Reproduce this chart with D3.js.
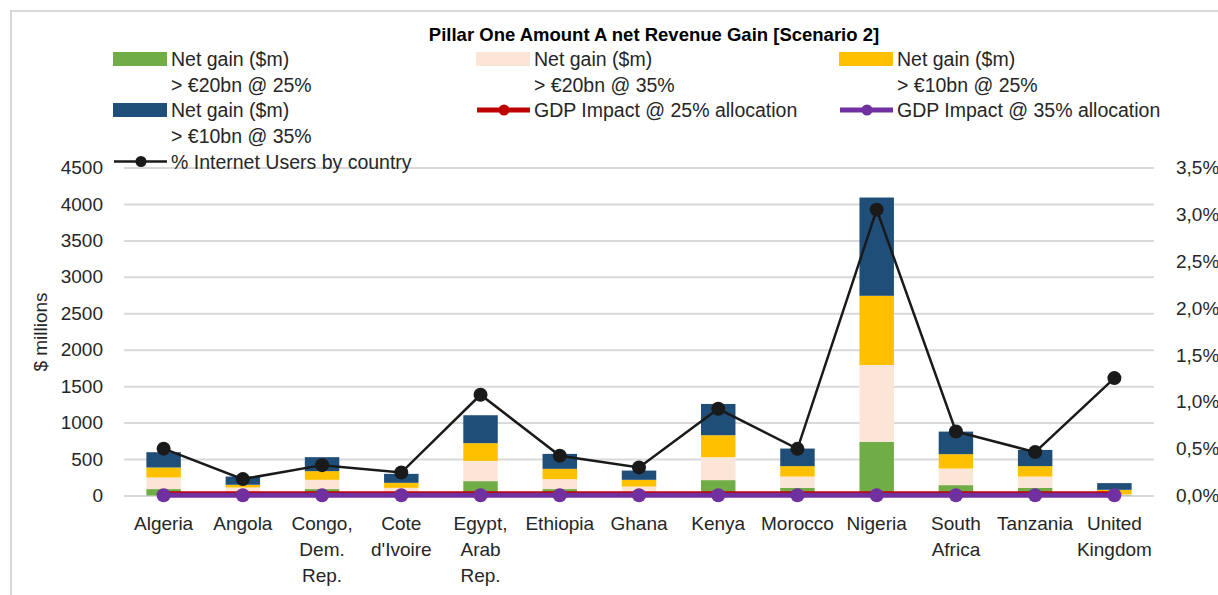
<!DOCTYPE html>
<html>
<head>
<meta charset="utf-8">
<script src="https://cdn.jsdelivr.net/npm/d3@7"></script>
<style>
  html, body { margin: 0; padding: 0; background: #fff; }
  svg { display: block; font-family: "Liberation Sans", Arial, sans-serif; }
</style>
</head>
<body>
<svg id="chart" width="1218" height="595"></svg>
<script>
// Countries on the x axis
const categories = ["Algeria", "Angola", "Congo, Dem. Rep.", "Cote d'Ivoire", "Egypt, Arab Rep.",
  "Ethiopia", "Ghana", "Kenya", "Morocco", "Nigeria", "South Africa", "Tanzania", "United Kingdom"];

// Net revenue gain ($m), stacked bottom to top
const gain20at25 = [88, 35, 88, 40, 197, 88, 45, 211, 105, 735, 142, 105, 5];
const gain20at35 = [159, 75, 127, 65, 278, 137, 78, 315, 155, 1055, 228, 155, 10];
const gain10at25 = [137, 37, 119, 69, 243, 141, 92, 301, 143, 950, 197, 143, 63];
const gain10at35 = [210, 113, 192, 123, 383, 205, 127, 429, 241, 1348, 310, 222, 92];

// Right-axis series (%)
const gdpImpact25 = [0.03, 0.03, 0.03, 0.03, 0.03, 0.03, 0.03, 0.03, 0.03, 0.03, 0.03, 0.03, 0.03];
const gdpImpact35 = [0.002, 0.002, 0.002, 0.002, 0.002, 0.002, 0.002, 0.002, 0.002, 0.002, 0.002, 0.002, 0.002];
const internetUsers = [0.50, 0.175, 0.324, 0.245, 1.075, 0.424, 0.30, 0.925, 0.498, 3.05, 0.683, 0.463, 1.253];

// Axis ticks
const leftTicks = [0, 500, 1000, 1500, 2000, 2500, 3000, 3500, 4000, 4500];
const rightTicks = [0, 0.5, 1.0, 1.5, 2.0, 2.5, 3.0, 3.5];

const title = "Pillar One Amount A net Revenue Gain [Scenario 2]";
const yTitle = "$ millions";

const stackKeys = ["g20_25", "g20_35", "g10_25", "g10_35"];
const stackColors = { g20_25: "#70ad47", g20_35: "#fbe5d6", g10_25: "#ffc000", g10_35: "#1f4e79" };
const stackLabels = {
  g20_25: ["Net gain ($m)", "> €20bn @ 25%"],
  g20_35: ["Net gain ($m)", "> €20bn @ 35%"],
  g10_25: ["Net gain ($m)", "> €10bn @ 25%"],
  g10_35: ["Net gain ($m)", "> €10bn @ 35%"]
};

const rows = categories.map((c, i) => ({
  country: c,
  g20_25: gain20at25[i], g20_35: gain20at35[i], g10_25: gain10at25[i], g10_35: gain10at35[i],
  gdp25: gdpImpact25[i], gdp35: gdpImpact35[i], internet: internetUsers[i]
}));

const svg = d3.select("#chart");
const textColor = "#262626";

// Plot frame
const plot = { left: 124, right: 1154, top: 167.5, bottom: 495.5 };

// Outer chart border
svg.append("rect")
  .attr("x", 11).attr("y", 11).attr("width", 1230).attr("height", 600)
  .attr("fill", "none").attr("stroke", "#d9d9d9").attr("stroke-width", 2);

const x = d3.scaleBand().domain(categories).range([plot.left, plot.right])
  .paddingInner(0.565).paddingOuter(0.2825);
const y = d3.scaleLinear().domain([0, 4500]).range([plot.bottom, plot.top]);
const yR = d3.scaleLinear().domain([0, 3.5]).range([plot.bottom, plot.top]);

const commaLocale = d3.formatLocale({ decimal: ",", thousands: ".", grouping: [3], currency: ["", ""] });
const fmtPct = v => commaLocale.format(".1f")(v) + "%";

// Gridlines
const grid = svg.append("g").attr("transform", `translate(${plot.left},0)`)
  .call(d3.axisLeft(y).tickValues(leftTicks).tickSize(-(plot.right - plot.left)).tickFormat(""));
grid.select(".domain").remove();
grid.selectAll("line").attr("stroke", "#d9d9d9").attr("stroke-width", 2);

// Left axis
const yAxis = svg.append("g").attr("transform", `translate(${plot.left},0)`)
  .call(d3.axisLeft(y).tickValues(leftTicks).tickSize(0).tickPadding(21).tickFormat(d3.format("d")));
yAxis.select(".domain").remove();
yAxis.selectAll("text").attr("font-size", 19).attr("fill", textColor)
  .attr("font-family", "Liberation Sans, Arial, sans-serif");

// Right axis
const yAxisR = svg.append("g").attr("transform", `translate(${plot.right},0)`)
  .call(d3.axisRight(yR).tickValues(rightTicks).tickSize(0).tickPadding(22).tickFormat(fmtPct));
yAxisR.select(".domain").remove();
yAxisR.selectAll("text").attr("font-size", 19).attr("fill", textColor)
  .attr("font-family", "Liberation Sans, Arial, sans-serif");

// Category axis with wrapped labels
const xAxis = svg.append("g").attr("transform", `translate(0,${plot.bottom})`)
  .call(d3.axisBottom(x).tickSize(0).tickPadding(0));
xAxis.select(".domain").remove();
xAxis.selectAll("text").each(function (d) {
  const t = d3.select(this);
  t.text(null).attr("y", 0).attr("dy", null)
    .attr("font-size", 19).attr("fill", textColor)
    .attr("font-family", "Liberation Sans, Arial, sans-serif");
  d.split(" ").forEach((w, i) => {
    t.append("tspan").attr("x", 0).attr("y", 34 + i * 26).text(w);
  });
});

// Stacked bars
const stacked = d3.stack().keys(stackKeys)(rows);
svg.append("g").selectAll("g").data(stacked).join("g")
  .attr("fill", s => stackColors[s.key])
  .selectAll("rect").data(s => s).join("rect")
  .attr("x", d => x(d.data.country))
  .attr("width", x.bandwidth())
  .attr("y", d => y(d[1]))
  .attr("height", d => y(d[0]) - y(d[1]));

const cx = d => x(d.country) + x.bandwidth() / 2;

// GDP impact @ 25%
svg.append("path").datum(rows)
  .attr("fill", "none").attr("stroke", "#c00000").attr("stroke-width", 3)
  .attr("d", d3.line().x(cx).y(d => yR(d.gdp25)));

// GDP impact @ 35%
svg.append("path").datum(rows)
  .attr("fill", "none").attr("stroke", "#7030a0").attr("stroke-width", 5)
  .attr("d", d3.line().x(cx).y(d => yR(d.gdp35)));
svg.append("g").selectAll("circle").data(rows).join("circle")
  .attr("cx", cx).attr("cy", d => yR(d.gdp35)).attr("r", 7).attr("fill", "#7030a0");

// % Internet users
svg.append("path").datum(rows)
  .attr("fill", "none").attr("stroke", "#1a1a1a").attr("stroke-width", 2.5)
  .attr("d", d3.line().x(cx).y(d => yR(d.internet)));
svg.append("g").selectAll("circle").data(rows).join("circle")
  .attr("cx", cx).attr("cy", d => yR(d.internet)).attr("r", 7).attr("fill", "#1a1a1a");

// Title
svg.append("text").attr("x", 654).attr("y", 41).attr("text-anchor", "middle")
  .attr("font-size", 18.5).attr("font-weight", "bold").attr("fill", "#000").text(title);

// Y axis title
svg.append("text").attr("transform", "translate(47,332) rotate(-90)")
  .attr("text-anchor", "middle").attr("font-size", 19).attr("fill", textColor).text(yTitle);

// Legend
const legendCols = [113, 476, 839];
const legendRows = [59, 110, 161.5];
const legendItems = [
  { type: "rect", key: "g20_25", col: 0, row: 0 },
  { type: "rect", key: "g20_35", col: 1, row: 0 },
  { type: "rect", key: "g10_25", col: 2, row: 0 },
  { type: "rect", key: "g10_35", col: 0, row: 1 },
  { type: "line", color: "#c00000", width: 5, r: 5.5, lines: ["GDP Impact @ 25% allocation"], col: 1, row: 1 },
  { type: "line", color: "#7030a0", width: 5, r: 5.5, lines: ["GDP Impact @ 35% allocation"], col: 2, row: 1 },
  { type: "line", color: "#1a1a1a", width: 2.5, r: 5.5, lines: ["% Internet Users by country"], col: 0, row: 2 }
];
const legend = svg.append("g");
legendItems.forEach(it => {
  const lx = legendCols[it.col], ly = legendRows[it.row];
  const g = legend.append("g");
  if (it.type === "rect") {
    g.append("rect").attr("x", lx).attr("y", ly - 7).attr("width", 54).attr("height", 14)
      .attr("fill", stackColors[it.key]);
  } else {
    g.append("line").attr("x1", lx + 1).attr("x2", lx + 54).attr("y1", ly).attr("y2", ly)
      .attr("stroke", it.color).attr("stroke-width", it.width);
    g.append("circle").attr("cx", lx + 28).attr("cy", ly).attr("r", it.r).attr("fill", it.color);
  }
  const lines = it.type === "rect" ? stackLabels[it.key] : it.lines;
  const t = g.append("text").attr("font-size", 19.5).attr("fill", textColor);
  lines.forEach((s, i) => {
    t.append("tspan").attr("x", lx + 58).attr("y", ly + 7 + i * 25.5).text(s);
  });
});
</script>
</body>
</html>
